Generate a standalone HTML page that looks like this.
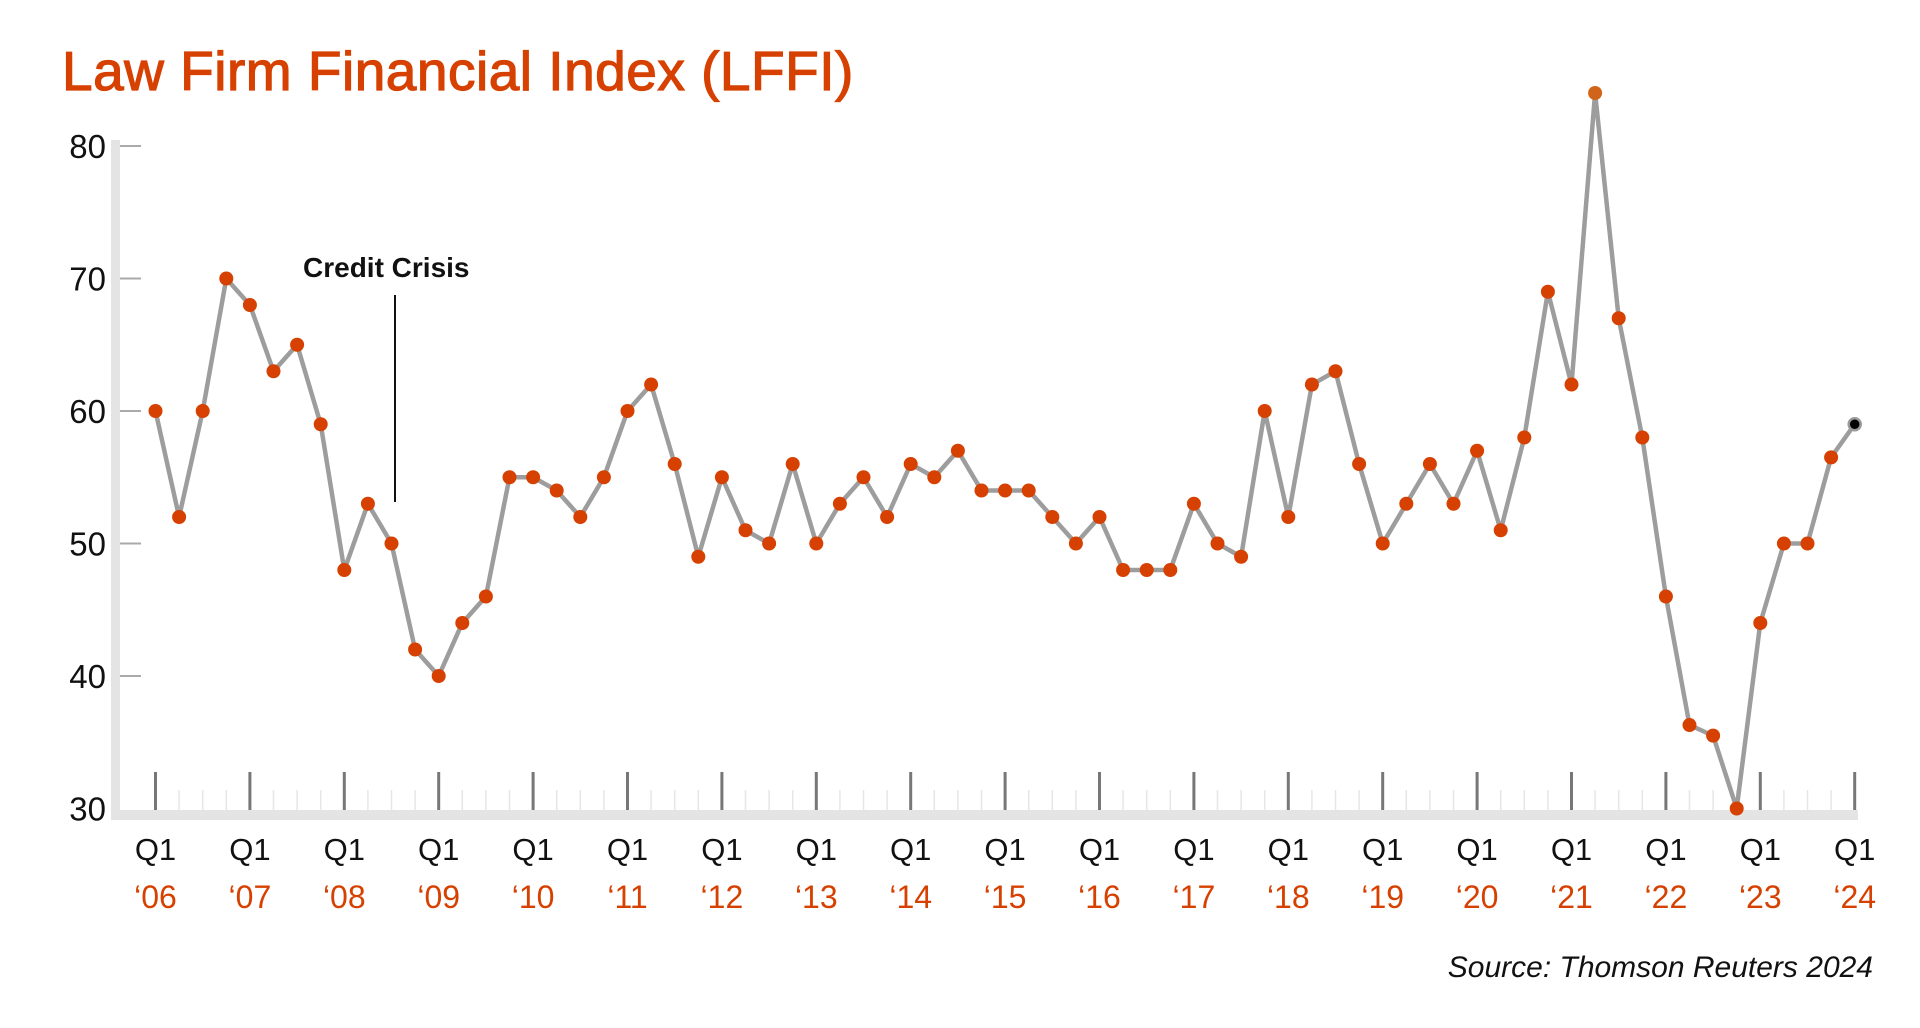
<!DOCTYPE html>
<html><head><meta charset="utf-8"><style>
html,body{margin:0;padding:0;background:#fff;width:1920px;height:1028px;overflow:hidden}
svg{display:block}
text{font-family:"Liberation Sans",sans-serif}
</style></head><body>
<svg id="c" width="1920" height="1028" xmlns="http://www.w3.org/2000/svg">
<text x="62" y="90" font-size="55" fill="#d64000" stroke="#d64000" stroke-width="1.2" letter-spacing="0.5">Law Firm Financial Index (LFFI)</text>
<rect x="111" y="140" width="9" height="680" fill="#e4e4e4"/>
<rect x="111" y="810" width="1747" height="10" fill="#e4e4e4"/>
<g id="g"></g>
<text x="303" y="277" font-size="28" font-weight="bold" fill="#111">Credit Crisis</text>
<line x1="395" y1="295" x2="395" y2="502" stroke="#111" stroke-width="2"/>
<text x="1873" y="977" font-size="30" font-style="italic" text-anchor="end" fill="#111">Source: Thomson Reuters 2024</text>
</svg>
<script>
var v=[60,52,60,70,68,63,65,59,48,53,50,42,40,44,46,55,55,54,52,55,60,62,56,49,55,51,50,56,50,53,55,52,56,55,57,54,54,54,52,50,52,48,48,48,53,50,49,60,52,62,63,56,50,53,56,53,57,51,58,69,62,84,67,58,46,36.3,35.5,30,44,50,50,56.5,59];
function X(i){return 155.5+i*23.6}function Y(a){return 146+(80-a)*13.25}
var s='';
[80,70,60,50,40,30].forEach(function(t){var y=Y(t);
 if(t>30)s+='<line x1="120" y1="'+y+'" x2="141" y2="'+y+'" stroke="#aaa" stroke-width="2"/>';
 s+='<text x="106" y="'+(y+12)+'" font-size="33" text-anchor="end" fill="#111">'+t+'</text>';});
var yrs=['06','07','08','09','10','11','12','13','14','15','16','17','18','19','20','21','22','23','24'];
for(var i=0;i<73;i++){var x=X(i);
 if(i%4==0){s+='<line x1="'+x+'" y1="772" x2="'+x+'" y2="810" stroke="#777" stroke-width="3"/>';
  s+='<text x="'+x+'" y="860" font-size="31" text-anchor="middle" fill="#111">Q1</text>';
  s+='<text x="'+x+'" y="908" font-size="32" text-anchor="middle" fill="#d64000">\u2018'+yrs[i/4]+'</text>';}
 else s+='<line x1="'+x+'" y1="790" x2="'+x+'" y2="810" stroke="#e6e6e6" stroke-width="1.5"/>';}
var p=v.map(function(a,i){return X(i)+','+Y(a)}).join(' ');
s+='<polyline points="'+p+'" fill="none" stroke="#9d9d9d" stroke-width="4.5" stroke-linejoin="round"/>';
v.forEach(function(a,i){var c=i==72?'#000':(i==61?'#d2641a':'#d64000');
 s+='<circle cx="'+X(i)+'" cy="'+Y(a)+'" r="'+(i==72?6:7)+'" fill="'+c+'"'+(i==72?' stroke="#999" stroke-width="2.5"':'')+'/>';});
document.getElementById('g').innerHTML=s;
</script>
</body></html>
